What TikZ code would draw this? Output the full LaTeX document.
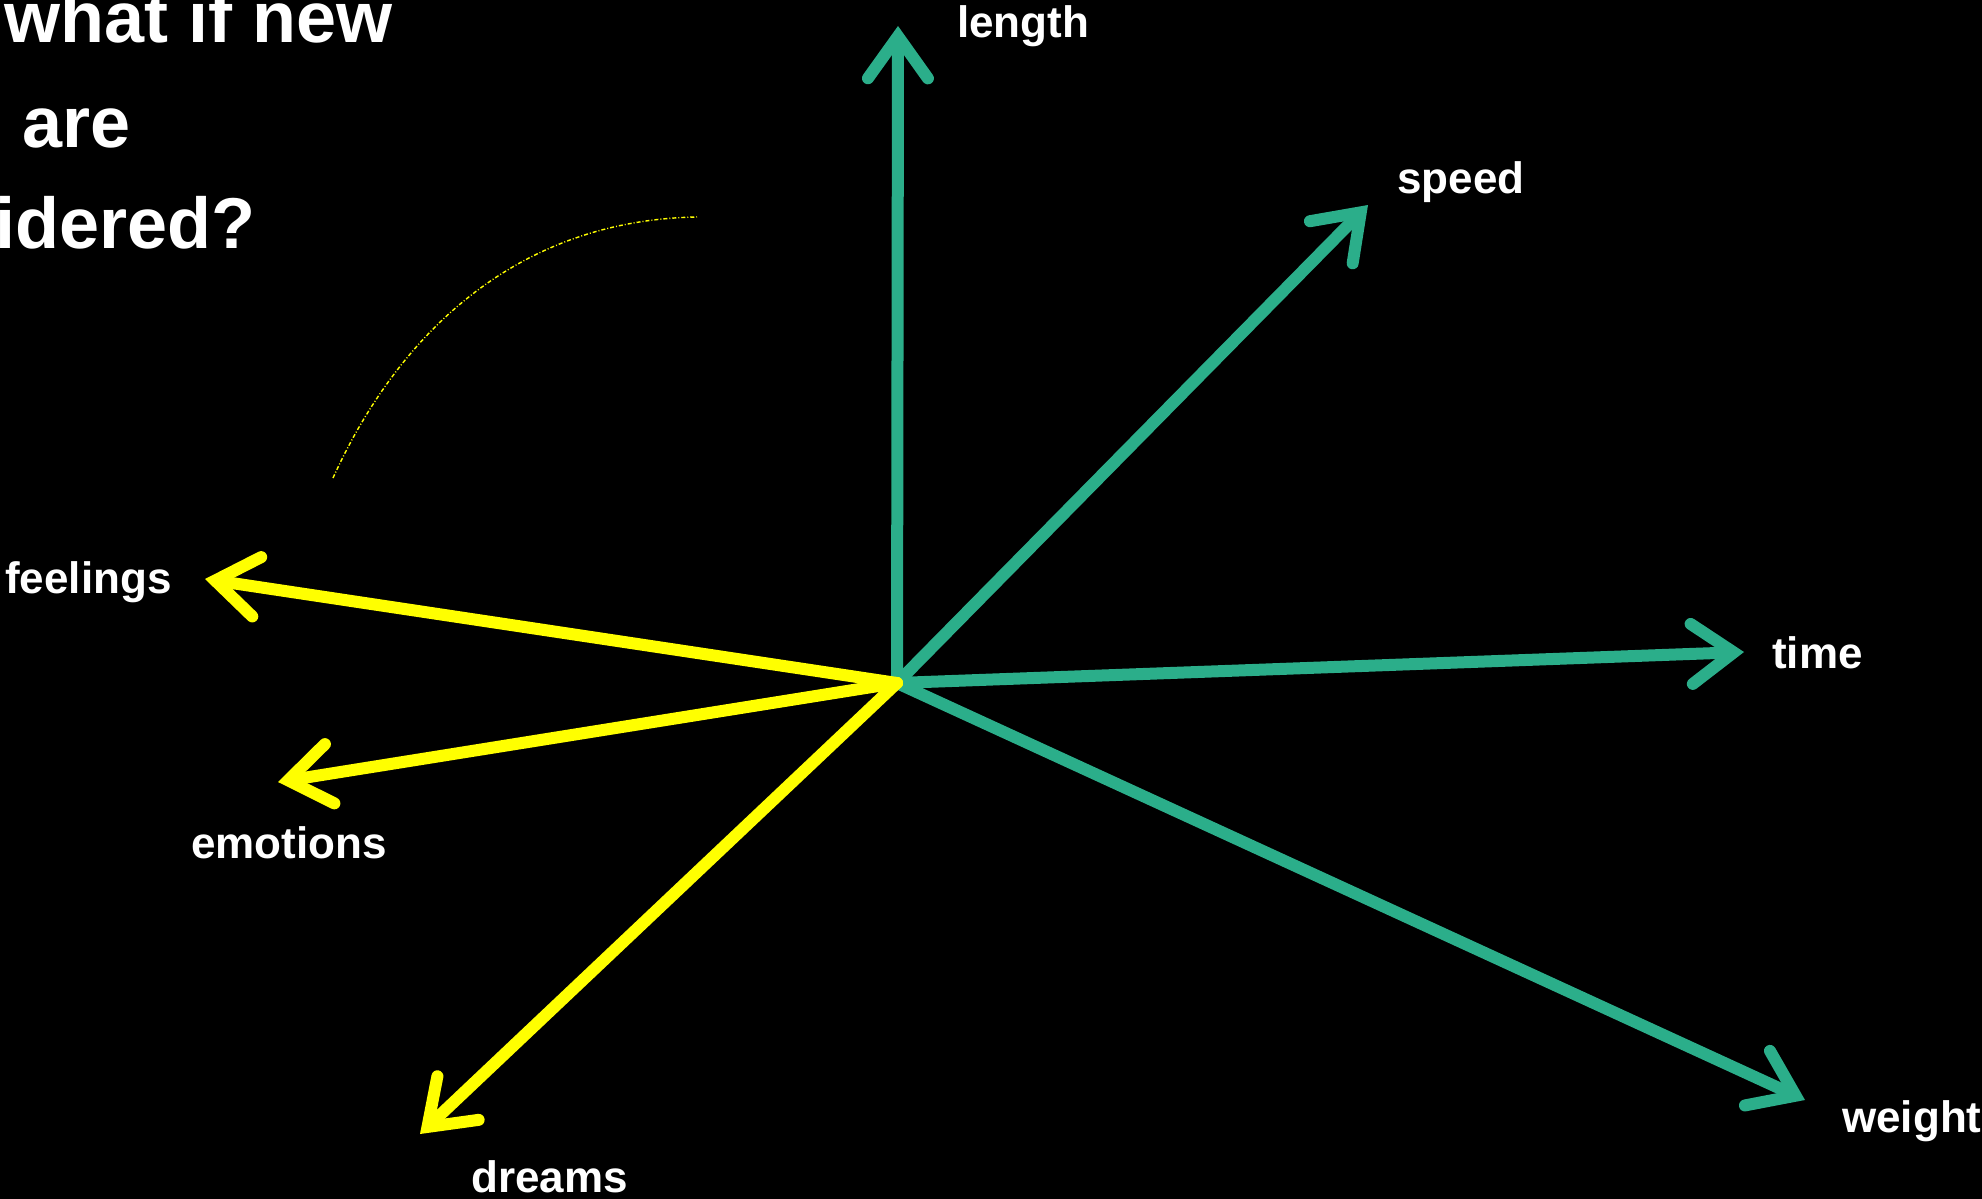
\documentclass[tikz,border=0pt]{standalone}
\usepackage{fontspec}
\setmainfont{Liberation Sans}
\usetikzlibrary{arrows.meta}
\definecolor{axgreen}{RGB}{43,174,138}
\definecolor{axyellow}{RGB}{255,255,0}
\tikzset{
  axis/.style={line width=12pt, line cap=round,
    -{Straight Barb[length=42pt, width=60pt, line cap=round, line join=miter]}},
  greenaxis/.style={axis, draw=axgreen},
  yellowaxis/.style={axis, draw=axyellow},
  lab/.style={text=white, font=\bfseries\fontsize{44}{44}\selectfont, inner sep=0pt, anchor=base west},
  ttl/.style={text=white, font=\bfseries\fontsize{72}{72}\selectfont, inner sep=0pt, anchor=base east},
}
\begin{document}
\begin{tikzpicture}[x=1pt, y=-1pt]
\useasboundingbox (0,0) rectangle (1982,1199);
\fill[black] (0,0) rectangle (1982,1199);
\begin{scope}
\clip (0,0) rectangle (1982,1199);
% title
\node[ttl] (t1) at (393,43) {what if new};
\node[ttl] (t2) at (131,147) {dimensions are};
\node[ttl] (t3) at (256,248) {considered?};
% dotted arc
\coordinate (arcA) at (333,478);
\coordinate (arcB) at (697,217);
\draw[axyellow, line width=1.4pt, dash pattern=on 4pt off 2pt on 1pt off 2pt]
  (arcA) .. controls (400,330) and (520,220) .. (arcB);
% coordinates
\coordinate (o) at (897,683);
\coordinate (tipL) at (898,26);
\coordinate (tipS) at (1368,205);
\coordinate (tipT) at (1744,652);
\coordinate (tipW) at (1805,1100);
\coordinate (tipF) at (205,579);
\coordinate (tipE) at (278,782);
\coordinate (tipD) at (420,1134);
% green axes
\draw[greenaxis] (o) -- (tipL);
\draw[greenaxis] (o) -- (tipS);
\draw[greenaxis] (o) -- (tipT);
\draw[greenaxis] (o) -- (tipW);
% yellow axes
\draw[yellowaxis] (o) -- (tipF);
\draw[yellowaxis] (o) -- (tipE);
\draw[yellowaxis] (o) -- (tipD);
% labels
\node[lab] (lL) at (957,38) {length};
\node[lab] (lS) at (1397,193) {speed};
\node[lab] (lT) at (1772,668) {time};
\node[lab] (lW) at (1842,1132) {weight};
\node[lab] (lF) at (5,593) {feelings};
\node[lab] (lE) at (191,858) {emotions};
\node[lab] (lD) at (471,1192) {dreams};
\end{scope}
\end{tikzpicture}
\end{document}
